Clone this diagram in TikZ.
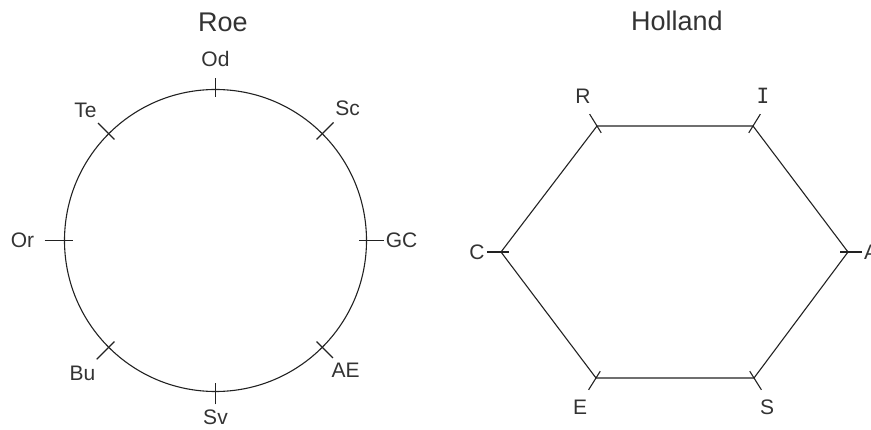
\documentclass[tikz,border=0pt]{standalone}
\usepackage{fontspec}
\usetikzlibrary{calc}
\setmainfont{Liberation Sans}
\newfontfamily\serifI{DejaVu Sans Mono}
\definecolor{ink}{HTML}{222222}
\definecolor{txt}{HTML}{333333}
\begin{document}
\begin{tikzpicture}[x=1pt,y=-1pt,
  line/.style={draw=ink,line width=1.1pt},
  tick/.style={draw=ink,line width=1.1pt},
  lbl/.style={text=txt,inner sep=0pt,font=\fontsize{21}{21}\selectfont},
  ttl/.style={text=txt,inner sep=0pt,font=\fontsize{27}{27}\selectfont}]
\useasboundingbox (0,0) rectangle (871,430);
% ---------- Roe circle ----------
\node[ttl] (roeT) at (223,22) {Roe};
\node[circle,line,minimum size=302pt,inner sep=0pt] (roe) at (215.5,240.5) {};
\foreach \a/\nm/\o/\r in {90/Od/11/182, 45/Sc/16/187, 0/GC/17/186, -45/AE/15/184,
                          -90/Sv/13/177, -135/Bu/17/188, 180/Or/20/193, 135/Te/15/184}{
  \draw[tick] ($(roe.center)+(\a:151pt+\o pt)$) -- ($(roe.center)+(\a:143pt)$);
  \node[lbl] (lab\nm) at ($(roe.center)+(\a:\r pt)$) {\nm};
}
% ---------- Holland hexagon ----------
\node[ttl] (holT) at (677,21) {Holland};
\coordinate (hc) at (675,252);
\coordinate (R) at (597,126);
\coordinate (I) at (753,126);
\coordinate (A) at (848,252);
\coordinate (S) at (754,378);
\coordinate (E) at (596,378);
\coordinate (C) at (501,252);
\draw[line,line join=round] (R) -- (I) -- (A) -- (S) -- (E) -- (C) -- cycle;
\foreach \v in {R,I,A,S,E,C}{
  \draw[tick] ($(\v)!-14pt!(hc)$) -- ($(\v)!8pt!(hc)$);
}
\node[lbl] (labR) at (583,96) {R};
\node[lbl] (labI) at (763,96) {\serifI I};
\node[lbl,anchor=west] (labA) at (864,252) {A};
\node[lbl] (labS) at (767,407) {S};
\node[lbl] (labE) at (580,407) {E};
\node[lbl] (labC) at (477,252) {C};
\end{tikzpicture}
\end{document}
